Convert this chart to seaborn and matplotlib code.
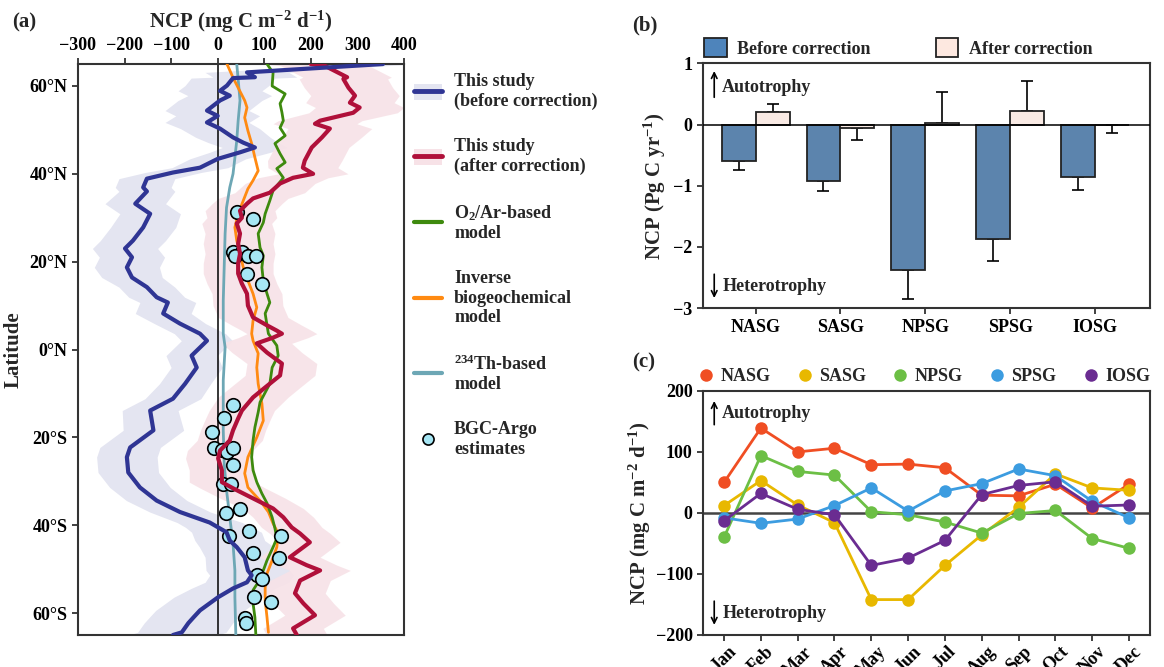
import matplotlib
matplotlib.use('Agg')
import matplotlib.pyplot as plt
import seaborn as sns
import numpy as np
import pandas as pd
from matplotlib.lines import Line2D
from matplotlib.patches import Patch

# ---- panel (a): zonal NCP profiles ----
blue_lat = [65.0, 63.1, 62.0, 61.8, 60.1, 58.9, 57.8, 56.7, 54.4, 53.2, 51.7, 50.3, 48.3, 47.1, 46.0,
            44.9, 43.4, 41.4, 40.3, 38.9, 36.9, 36.0, 33.2, 30.9, 27.8, 24.8, 23.0, 21.0, 18.7, 16.4,
            14.2, 11.9, 10.7, 8.2, 5.9, 3.6, 2.0, -1.4, -4.1, -7.8, -11.2, -13.9, -18.4, -22.3, -24.5,
            -28.0, -31.4, -34.4, -37.0, -39.4, -40.5, -41.6, -43.5, -45.0, -47.3, -50.3, -51.4, -53.0,
            -54.4, -56.4, -59.4, -61.0, -62.3, -64.4, -65.0]
blue_ncp = [355, 63, 80, 33, 20, 5, 26, 5, -23, 0, -23, 5, 33, 55, 80,
            48, 0, -38, -96, -152, -160, -152, -177, -145, -160, -182, -199, -184, -195, -184,
            -152, -131, -107, -117, -81, -38, -23, -56, -45, -70, -96, -145, -138, -188, -195,
            -192, -167, -131, -81, -17, 1, 19, 26, 41, 58, 65, 73, 63,
            33, 1, -38, -52, -63, -77, -96]
blue_sd = [60, 90, 90, 90, 90, 90, 90, 90, 90, 90, 90, 85, 80, 75, 70,
           65, 60, 60, 60, 60, 60, 60, 65, 65, 70, 70, 70, 70, 70, 65,
           60, 60, 60, 60, 55, 55, 55, 55, 55, 55, 60, 60, 65, 65, 65,
           65, 65, 65, 65, 70, 70, 75, 75, 80, 85, 90, 90, 90,
           90, 95, 95, 95, 95, 95, 95]

red_lat = [65.0, 64.6, 62.0, 61.6, 59.6, 57.8, 56.2, 55.1, 53.9, 52.1, 51.4, 50.3, 48.3, 46.0, 43.0,
           41.4, 40.0, 39.1, 37.8, 35.7, 34.4, 33.2, 31.6, 30.0, 28.7, 26.4, 24.1, 21.8, 19.6, 17.3,
           15.0, 12.7, 10.0, 7.3, 5.5, 4.3, 3.6, 2.7, 1.4, -0.7, -3.2, -5.9, -8.9, -10.9, -13.9,
           -15.7, -18.4, -20.7, -23.0, -24.8, -27.5, -30.2, -31.6, -33.9, -36.2, -38.2, -40.5, -41.9,
           -43.9, -47.3, -49.1, -50.3, -52.6, -55.5, -57.8, -60.5, -63.5, -65.0]
red_ncp = [200, 230, 278, 270, 281, 295, 284, 305, 291, 220, 209, 241, 224, 202, 187,
           183, 205, 162, 134, 112, 76, 63, 48, 52, 41, 48, 44, 48, 44, 44,
           52, 63, 65, 76, 106, 127, 138, 119, 84, 106, 138, 134, 99, 76, 52,
           44, 33, 26, 5, 1, 9, 9, 33, 76, 119, 141, 159, 177,
           198, 155, 191, 220, 177, 166, 184, 209, 162, 170]
red_sd = [95, 95, 95, 95, 95, 95, 95, 95, 95, 90, 90, 90, 85, 80, 80,
          75, 75, 75, 75, 75, 75, 75, 75, 75, 75, 75, 75, 75, 75, 75,
          75, 75, 75, 75, 75, 75, 75, 75, 75, 75, 75, 75, 75, 75, 70,
          70, 70, 70, 70, 70, 70, 70, 70, 70, 65, 65, 65, 65,
          65, 65, 65, 65, 65, 65, 65, 65, 65, 65]

green_lat = [65.0, 63.0, 60.0, 58.2, 56.0, 54.0, 52.1, 50.5, 48.7, 46.9, 44.6, 42.6, 41.2, 39.1, 36.2,
             33.9, 30.9, 28.9, 26.4, 23.2, 21.4, 18.7, 15.7, 12.7, 10.7, 8.2, 5.5, 3.6, 0.9, -1.4,
             -4.1, -7.8, -12.0, -14.3, -17.7, -20.7, -24.5, -27.5, -30.2, -32.8, -35.0, -38.2, -40.7,
             -43.0, -45.0, -48.0, -50.3, -53.0, -54.8, -57.8, -61.0, -65.0]
green_ncp = [106, 119, 117, 145, 134, 138, 141, 134, 145, 123, 134, 145, 127, 141, 119,
             112, 102, 98, 87, 91, 98, 95, 98, 106, 112, 102, 106, 109, 127, 130,
             117, 112, 91, 87, 80, 76, 73, 76, 84, 95, 106, 117, 123,
             127, 119, 106, 98, 87, 76, 76, 80, 82]

orange_lat = [65.0, 61.9, 59.6, 56.7, 55.1, 52.8, 49.8, 46.9, 43.7, 40.7, 38.5, 36.6, 33.9, 30.9, 27.8,
              24.8, 21.8, 18.7, 15.7, 12.7, 9.6, 6.6, 3.6, 2.0, -0.9, -4.1, -7.8, -12.3, -16.2, -20.0,
              -24.5, -28.2, -31.4, -34.4, -37.0, -39.6, -41.9, -45.0, -48.0, -51.0, -54.2, -57.1,
              -61.0, -64.4]
orange_ncp = [20, 33, 44, 58, 63, 58, 65, 73, 80, 87, 76, 65, 55, 44, 37,
              41, 48, 55, 65, 76, 84, 76, 73, 76, 87, 84, 87, 95, 98, 84,
              65, 58, 65, 91, 109, 119, 130, 127, 117, 106, 102, 102,
              106, 109]

teal_lat = [65.0, 61.5, 56.7, 52.1, 47.6, 43.7, 40.0, 36.9, 32.3, 26.4, 18.7, 11.1,
            3.6, 0.5, -7.0, -18.4, -26.0, -32.0, -38.2, -44.2, -50.3, -56.4, -65.0]
teal_ncp = [41, 44, 48, 44, 41, 37, 33, 26, 19, 16, 14, 12,
            12, 16, 12, 12, 14, 19, 26, 33, 37, 37, 39]

argo_lat = [31.2, 29.7, 22.3, 22.1, 21.2, 21.2, 21.4, 17.3, 15.0, -12.7, -15.5, -18.7, -22.5, -22.8,
            -23.4, -22.5, -26.4, -30.7, -30.7, -36.4, -37.3, -41.4, -42.5, -42.5, -46.4, -47.5,
            -51.4, -52.3, -56.4, -57.6, -61.2, -62.3]
argo_ncp = [42, 76, 33, 52, 37, 65, 82, 63, 95, 33, 14, -12, -8, 9,
            19, 33, 33, 11, 28, 48, 18, 67, 24, 136, 76, 132,
            84, 95, 78, 114, 59, 61]

# ---- panel (b): gyre totals ----
gyres = ['NASG', 'SASG', 'NPSG', 'SPSG', 'IOSG']
before_total = [-0.60, -0.93, -2.37, -1.87, -0.86]
before_err = [0.15, 0.15, 0.48, 0.36, 0.21]
after_total = [0.20, -0.05, 0.03, 0.22, -0.01]
after_err = [0.14, 0.21, 0.51, 0.50, 0.13]

# ---- panel (c): monthly NCP ----
months = ['Jan', 'Feb', 'Mar', 'Apr', 'May', 'Jun', 'Jul', 'Aug', 'Sep', 'Oct', 'Nov', 'Dec']
nasg_m = [50, 139, 100, 106, 79, 80, 74, 29, 28, 47, 8, 47]
sasg_m = [12, 53, 13, -16, -142, -142, -86, -36, 9, 64, 41, 37]
npsg_m = [-40, 94, 68, 62, 2, -3, -15, -33, -1, 4, -42, -58]
spsg_m = [-8, -17, -10, 12, 41, 3, 36, 48, 72, 61, 19, -8]
iosg_m = [-13, 32, 6, -3, -86, -74, -45, 30, 45, 51, 11, 13]

sns.set_style('ticks')
plt.rcParams['font.family'] = ['Liberation Serif', 'DejaVu Serif']
plt.rcParams['font.weight'] = 'bold'
plt.rcParams['axes.labelweight'] = 'bold'
plt.rcParams['mathtext.fontset'] = 'custom'
plt.rcParams['mathtext.rm'] = 'Liberation Serif:bold'
plt.rcParams['mathtext.bf'] = 'Liberation Serif:bold'
plt.rcParams['mathtext.it'] = 'Liberation Serif:bold:italic'
plt.rcParams['mathtext.default'] = 'rm'
plt.rcParams['axes.edgecolor'] = '#333333'
plt.rcParams['axes.linewidth'] = 1.5
plt.rcParams['xtick.color'] = '#333333'
plt.rcParams['ytick.color'] = '#333333'
plt.rcParams['xtick.labelcolor'] = 'black'
plt.rcParams['ytick.labelcolor'] = 'black'

c_blue, c_blue_band = '#2f3594', '#e4e5f1'
c_red, c_red_band = '#b0103a', '#f7e2e7'
c_green, c_orange, c_teal = '#3e8a0e', '#ff8a12', '#6da7b5'

fig = plt.figure(figsize=(11.64, 6.67), dpi=100)
ax_a = fig.add_axes([0.067, 0.048, 0.280, 0.856])
ax_b = fig.add_axes([0.604, 0.538, 0.384, 0.367])
ax_c = fig.add_axes([0.604, 0.048, 0.384, 0.366])

# panel (a)
bl, bv, bs = np.array(blue_lat), np.array(blue_ncp), np.array(blue_sd)
rl, rv, rs = np.array(red_lat), np.array(red_ncp), np.array(red_sd)
ax_a.fill_betweenx(bl, bv - bs, bv + bs, color=c_blue_band, lw=0, zorder=1)
ax_a.fill_betweenx(rl, rv - rs, rv + rs, color=c_red_band, lw=0, zorder=1, alpha=0.9)
ax_a.axvline(0, color='black', lw=1.1, zorder=2)
line_kw = dict(orient='y', sort=False, estimator=None, ax=ax_a)
sns.lineplot(x=teal_ncp, y=teal_lat, color=c_teal, lw=2, zorder=3, **line_kw)
sns.lineplot(x=orange_ncp, y=orange_lat, color=c_orange, lw=2, zorder=3, **line_kw)
sns.lineplot(x=green_ncp, y=green_lat, color=c_green, lw=2, zorder=3, **line_kw)
sns.scatterplot(x=argo_ncp, y=argo_lat, color='#a6e6f4', edgecolor='black', linewidth=1.2,
                s=95, zorder=4, ax=ax_a)
sns.lineplot(x=red_ncp, y=red_lat, color=c_red, lw=3, zorder=5, **line_kw)
sns.lineplot(x=blue_ncp, y=blue_lat, color=c_blue, lw=3, zorder=5, **line_kw)

ax_a.set_xlim(-300, 400)
ax_a.set_ylim(-65, 65)
ax_a.xaxis.tick_top()
ax_a.xaxis.set_label_position('top')
ax_a.set_xticks(range(-300, 401, 100))
ax_a.set_yticks([60, 40, 20, 0, -20, -40, -60])
ax_a.set_yticklabels(['60°N', '40°N', '20°N', '0°N', '20°S', '40°S', '60°S'])
ax_a.tick_params(labelsize=13, width=1.3, length=4)
ax_a.set_xlabel(r'NCP (mg C m$^{-2}$ d$^{-1}$)', fontsize=15, labelpad=6)
ax_a.set_ylabel('Latitude', fontsize=15, labelpad=4)

leg_handles = [
    (Patch(facecolor=c_blue_band, edgecolor='none'), Line2D([], [], color=c_blue, lw=3.5)),
    (Patch(facecolor=c_red_band, edgecolor='none'), Line2D([], [], color=c_red, lw=3.5)),
    Line2D([], [], color=c_green, lw=3),
    Line2D([], [], color=c_orange, lw=3),
    Line2D([], [], color=c_teal, lw=3),
    Line2D([], [], ls='none', marker='o', markersize=8, markerfacecolor='#a6e6f4',
           markeredgecolor='black', markeredgewidth=1.2),
]
leg_labels = ['This study\n(before correction)', 'This study\n(after correction)',
              r'O$_2$/Ar-based' + '\nmodel', 'Inverse\nbiogeochemical\nmodel',
              r'$^{234}$Th-based' + '\nmodel', 'BGC-Argo\nestimates']
ax_a.legend(leg_handles, leg_labels, loc='upper left', bbox_to_anchor=(1.01, 0.997),
            frameon=False, fontsize=13, handlelength=1.55, handleheight=1.0,
            labelspacing=1.55, handletextpad=0.65, borderaxespad=0)

# panel (b)
df_b = pd.DataFrame({
    'gyre': gyres * 2,
    'ncp': before_total + after_total,
    'stage': ['Before correction'] * len(gyres) + ['After correction'] * len(gyres),
})
c_before, c_after = '#4e84bb', '#fde8e0'
sns.barplot(data=df_b, x='gyre', y='ncp', hue='stage',
            hue_order=['Before correction', 'After correction'],
            palette=[c_before, c_after], edgecolor='#222222', linewidth=1.3,
            errorbar=None, legend=False, ax=ax_b, zorder=2)
ax_b.axhline(0, color='black', lw=1.1, zorder=3)
for vals, errs, shift in [(before_total, before_err, -0.2), (after_total, after_err, 0.2)]:
    vals = np.array(vals)
    errs = np.array(errs)
    lo = np.where(vals < 0, errs, 0)
    hi = np.where(vals >= 0, errs, 0)
    ax_b.errorbar(np.arange(len(vals)) + shift, vals, yerr=[lo, hi], fmt='none',
                  ecolor='black', elinewidth=1.2, capsize=4, capthick=1.2, zorder=1)
ax_b.set_xlim(-0.62, 4.65)
ax_b.set_ylim(-3, 1)
ax_b.set_yticks([-3, -2, -1, 0, 1])
ax_b.set_xlabel('')
ax_b.set_ylabel(r'NCP (Pg C yr$^{-1}$)', fontsize=15, labelpad=4)
ax_b.tick_params(labelsize=13, width=1.3, length=4)
b_handles = [Patch(facecolor=c_before, edgecolor='#222222', lw=1.3),
             Patch(facecolor=c_after, edgecolor='#222222', lw=1.3)]
ax_b.legend(b_handles, ['Before correction', 'After correction'], loc='lower left',
            bbox_to_anchor=(-0.01, 1.0), ncol=2, frameon=False, fontsize=13,
            handlelength=1.25, handleheight=1.25, handletextpad=0.6,
            columnspacing=3.6, borderaxespad=0.1, borderpad=0.2)


def trophy_marks(ax, up_y, down_y, up_text_y, down_text_y):
    ax.annotate('', xy=(0.025, up_y[1]), xytext=(0.025, up_y[0]), xycoords='axes fraction',
                arrowprops=dict(arrowstyle='->', color='black', lw=1.2))
    ax.annotate('', xy=(0.025, down_y[1]), xytext=(0.025, down_y[0]), xycoords='axes fraction',
                arrowprops=dict(arrowstyle='->', color='black', lw=1.2))
    ax.text(0.043, up_text_y, 'Autotrophy', transform=ax.transAxes, fontsize=13, va='center')
    ax.text(0.043, down_text_y, 'Heterotrophy', transform=ax.transAxes, fontsize=13, va='center')


trophy_marks(ax_b, (0.85, 0.98), (0.15, 0.03), 0.90, 0.09)

# panel (c)
regions = ['NASG', 'SASG', 'NPSG', 'SPSG', 'IOSG']
region_colors = ['#f04e23', '#e8b800', '#6cbf45', '#3c9ce0', '#6a2c91']
df_c = pd.DataFrame({
    'month': list(range(12)) * 5,
    'ncp': nasg_m + sasg_m + npsg_m + spsg_m + iosg_m,
    'region': [r for r in regions for _ in range(12)],
})
ax_c.axhline(0, color='#444444', lw=1.8, zorder=1)
sns.lineplot(data=df_c, x='month', y='ncp', hue='region', hue_order=regions,
             palette=region_colors, marker='o', markersize=9, markeredgewidth=0,
             lw=2, legend=False, ax=ax_c, zorder=3)
ax_c.set_xlim(-0.57, 11.57)
ax_c.set_ylim(-200, 200)
ax_c.set_yticks([-200, -100, 0, 100, 200])
ax_c.set_xticks(range(12))
ax_c.set_xticklabels(months, rotation=45)
ax_c.set_xlabel('')
ax_c.set_ylabel(r'NCP (mg C m$^{-2}$ d$^{-1}$)', fontsize=15, labelpad=2)
ax_c.tick_params(labelsize=13, width=1.3, length=4)
ax_c.tick_params(axis='x', pad=2)
c_handles = [Line2D([], [], ls='none', marker='o', markersize=9, markerfacecolor=c,
                    markeredgewidth=0) for c in region_colors]
ax_c.legend(c_handles, regions, loc='lower left', bbox_to_anchor=(-0.022, 1.0), ncol=5,
            frameon=False, fontsize=13, handlelength=0.8, handletextpad=0.4,
            columnspacing=1.5, borderaxespad=0.1, borderpad=0.2)
trophy_marks(ax_c, (0.85, 0.97), (0.15, 0.03), 0.906, 0.09)

fig.text(0.010, 0.966, '(a)', fontsize=15, va='center')
fig.text(0.543, 0.962, '(b)', fontsize=15, va='center')
fig.text(0.543, 0.457, '(c)', fontsize=15, va='center')

fig.savefig('out.png', dpi=100)
